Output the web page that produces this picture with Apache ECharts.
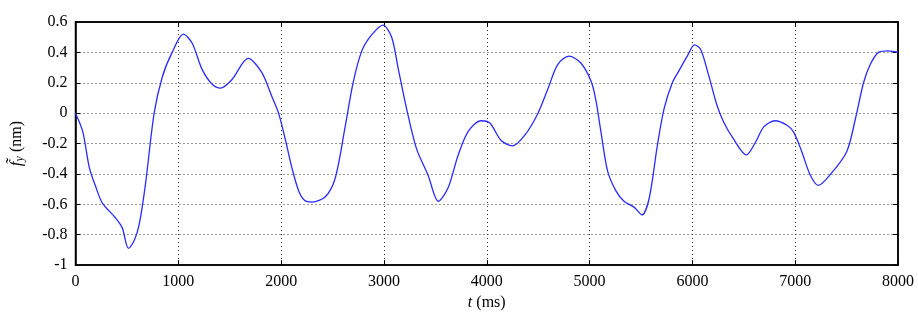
<!DOCTYPE html>
<html>
<head>
<meta charset="utf-8">
<script src="https://cdn.jsdelivr.net/npm/echarts@6/dist/echarts.min.js"></script>
<style>
  html, body { margin: 0; padding: 0; background: #fff; }
  #chart { width: 918px; height: 316px; }
</style>
</head>
<body>
<div id="chart"></div>
<script>
// time (ms) and force (nm)
const times = [0, 70, 135, 200, 260, 390, 455, 515, 570, 620, 680, 765, 845, 940, 1050,
  1135, 1230, 1330, 1410, 1520, 1680, 1810, 1910, 1975, 2040, 2105, 2170, 2230, 2300,
  2430, 2525, 2620, 2700, 2785, 2880, 2990, 3075, 3140, 3220, 3315, 3430, 3530, 3625,
  3720, 3820, 3945, 4030, 4140, 4250, 4370, 4495, 4595, 4690, 4800, 4915, 5015, 5060,
  5110, 5175, 5255, 5335, 5435, 5510, 5580, 5660, 5725, 5805, 5870, 5950, 6020, 6080,
  6160, 6240, 6305, 6400, 6525, 6615, 6695, 6805, 6920, 6985, 7065, 7145, 7225, 7340,
  7500, 7585, 7665, 7730, 7810, 7905, 8000];
const force = [0, -0.12, -0.36, -0.49, -0.59, -0.69, -0.755, -0.89, -0.84, -0.73, -0.47, 0, 0.24, 0.40, 0.52,
  0.46, 0.29, 0.19, 0.165, 0.22, 0.36, 0.27, 0.11, 0, -0.17, -0.36, -0.51, -0.575, -0.585,
  -0.55, -0.43, -0.10, 0.20, 0.41, 0.515, 0.58, 0.50, 0.29, 0.03, -0.23, -0.41, -0.58, -0.49,
  -0.28, -0.12, -0.05, -0.065, -0.18, -0.215, -0.145, -0.005, 0.16, 0.32, 0.375, 0.33, 0.21, 0.09,
  -0.12, -0.38, -0.51, -0.58, -0.62, -0.67, -0.56, -0.21, 0.03, 0.20, 0.28, 0.375, 0.45, 0.42,
  0.245, 0.05, -0.06, -0.17, -0.275, -0.19, -0.09, -0.05, -0.08, -0.125, -0.255, -0.405, -0.475, -0.405,
  -0.255, -0.04, 0.20, 0.32, 0.40, 0.41, 0.40];
const xTicks = [0, 1000, 2000, 3000, 4000, 5000, 6000, 7000, 8000];
const yTicks = [-1, -0.8, -0.6, -0.4, -0.2, 0, 0.2, 0.4, 0.6];

const font = "Liberation Serif";
const myChart = echarts.init(document.getElementById("chart"));

const frame = { show: true, onZero: false, lineStyle: { color: "#000", width: 1.5 } };
const tick = { show: true, inside: true, length: 5, lineStyle: { color: "#000" } };
const dotted = { show: true, lineStyle: { color: "#333", type: [1, 3], width: 1 } };

const option = {
  animation: false,
  grid: {
    left: 73, right: 20, top: 22, bottom: 48,
    show: true, borderColor: "#000", borderWidth: 1.5, backgroundColor: "transparent"
  },
  xAxis: [
    {
      type: "value",
      min: xTicks[0],
      max: xTicks[xTicks.length - 1],
      interval: 1000,
      name: "{i|t} (ms)",
      nameLocation: "middle",
      nameGap: 29,
      nameTextStyle: {
        fontFamily: font, fontSize: 16, color: "#000",
        rich: { i: { fontFamily: font, fontSize: 16, fontStyle: "italic", color: "#000" } }
      },
      axisLine: frame,
      axisTick: tick,
      splitLine: dotted,
      axisLabel: { fontFamily: font, fontSize: 16, color: "#000", margin: 9, formatter: (v) => String(v) }
    },
    {
      type: "value",
      position: "top",
      min: xTicks[0],
      max: xTicks[xTicks.length - 1],
      interval: 1000,
      axisLine: frame,
      axisTick: tick,
      splitLine: { show: false },
      axisLabel: { show: false }
    }
  ],
  yAxis: [
    {
      type: "value",
      min: yTicks[0],
      max: yTicks[yTicks.length - 1],
      interval: 0.2,
      name: "{i|f\u0303}{s|y} (nm)",
      nameLocation: "middle",
      nameGap: 50,
      nameTextStyle: {
        fontFamily: font, fontSize: 16, color: "#000",
        rich: {
          i: { fontFamily: font, fontSize: 17, fontStyle: "italic", color: "#000" },
          s: { fontFamily: font, fontSize: 12, fontStyle: "italic", color: "#000", padding: [6, 0, 0, 0] }
        }
      },
      axisLine: frame,
      axisTick: tick,
      splitLine: dotted,
      axisLabel: {
        fontFamily: font, fontSize: 16, color: "#000", margin: 8,
        formatter: (v) => String(Math.round(v * 10) / 10)
      }
    },
    {
      type: "value",
      position: "right",
      min: yTicks[0],
      max: yTicks[yTicks.length - 1],
      interval: 0.2,
      axisLine: frame,
      axisTick: tick,
      splitLine: { show: false },
      axisLabel: { show: false }
    }
  ],
  series: [
    {
      type: "line",
      data: times.map((t, i) => [t, force[i]]),
      smooth: 0.3,
      showSymbol: false,
      lineStyle: { color: "#2a2aff", width: 1.3 }
    }
  ]
};
myChart.setOption(option);
</script>
</body>
</html>
